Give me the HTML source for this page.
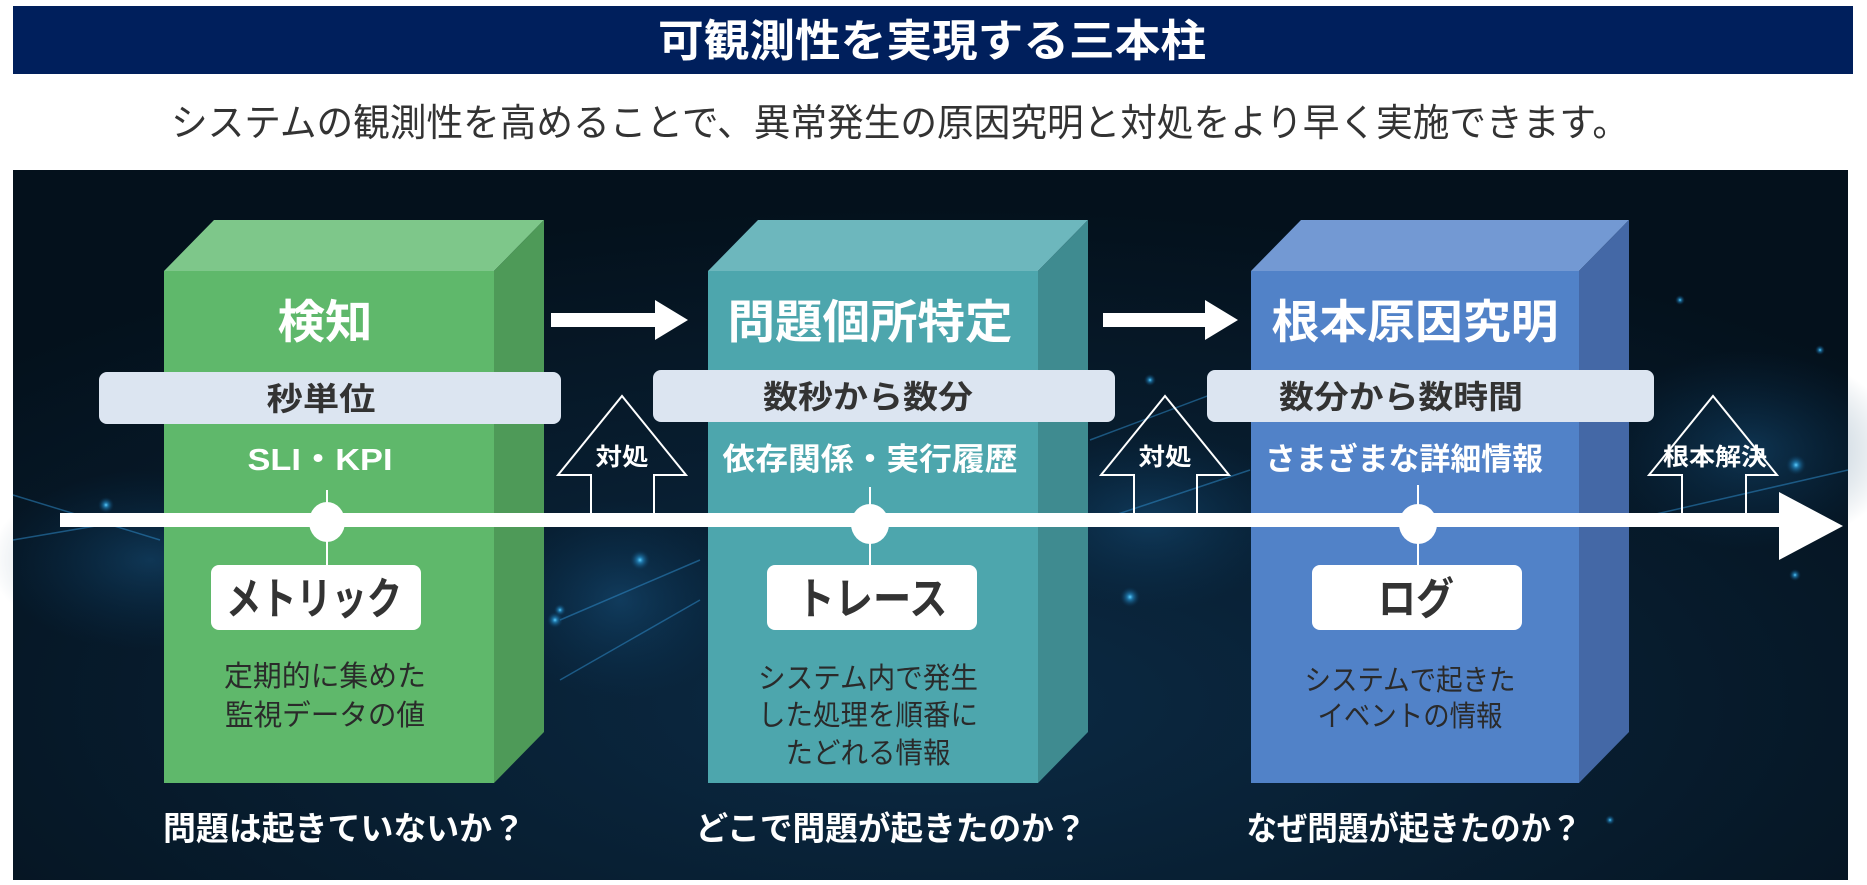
<!DOCTYPE html>
<html><head><meta charset="utf-8"><style>
html,body{margin:0;padding:0;background:#fff;width:1867px;height:885px;overflow:hidden}
svg{display:block}
text{font-family:"Liberation Sans","Noto Sans CJK JP",sans-serif}
</style></head><body>
<svg width="1867" height="885" viewBox="0 0 1867 885" xmlns="http://www.w3.org/2000/svg">
<defs>
<radialGradient id="bg" cx="0.5" cy="0.75" r="0.7">
<stop offset="0" stop-color="#0b2a44"/><stop offset="0.6" stop-color="#071b2c"/><stop offset="1" stop-color="#04111c"/>
</radialGradient>
<radialGradient id="glow"><stop offset="0" stop-color="#5fd0ff" stop-opacity="1"/><stop offset="0.3" stop-color="#2a9fe0" stop-opacity="0.6"/><stop offset="1" stop-color="#0a3a60" stop-opacity="0"/></radialGradient>
<radialGradient id="haze"><stop offset="0" stop-color="#1a5a8a" stop-opacity="0.45"/><stop offset="1" stop-color="#0a3a60" stop-opacity="0"/></radialGradient>
</defs>
<rect x="13" y="6" width="1840" height="68" fill="#001f5c"/>
<text x="932" y="56" font-size="44" font-weight="bold" fill="#fff" text-anchor="middle" textLength="548" lengthAdjust="spacingAndGlyphs">可観測性を実現する三本柱</text>
<text x="900" y="136" font-size="38" fill="#333" text-anchor="middle" textLength="1458" lengthAdjust="spacingAndGlyphs">システムの観測性を高めることで、異常発生の原因究明と対処をより早く実施できます。</text>
<rect x="13" y="170" width="1835" height="710" fill="url(#bg)"/>
<ellipse cx="150" cy="560" rx="160" ry="90" fill="url(#haze)"/>
<ellipse cx="620" cy="600" rx="120" ry="100" fill="url(#haze)"/>
<ellipse cx="1150" cy="520" rx="150" ry="90" fill="url(#haze)"/>
<ellipse cx="1750" cy="450" rx="150" ry="100" fill="url(#haze)"/>
<g stroke="#2f8fcf" stroke-opacity="0.5" stroke-width="1.5">
<line x1="13" y1="495" x2="160" y2="540"/><line x1="13" y1="540" x2="160" y2="515"/>
<line x1="560" y1="620" x2="700" y2="560"/><line x1="560" y1="680" x2="700" y2="600"/>
<line x1="1090" y1="440" x2="1250" y2="380"/><line x1="1100" y1="520" x2="1250" y2="470"/>
<line x1="1630" y1="520" x2="1848" y2="470"/>
</g>
<g fill="url(#glow)">
<circle cx="106" cy="400" r="8"/><circle cx="106" cy="505" r="8"/><circle cx="640" cy="560" r="10"/><circle cx="555" cy="620" r="8"/>
<circle cx="1040" cy="345" r="7"/><circle cx="1040" cy="440" r="7"/><circle cx="1130" cy="597" r="10"/><circle cx="1796" cy="465" r="10"/>
<circle cx="1795" cy="575" r="6"/><circle cx="1150" cy="380" r="6"/><circle cx="1680" cy="300" r="5"/><circle cx="1820" cy="350" r="5"/>
<circle cx="560" cy="610" r="6"/><circle cx="1610" cy="820" r="5"/></g>
<polygon points="164,271 214,220 544,220 494,271" fill="#7ec78a"/>
<polygon points="494,271 544,220 544,732 494,783" fill="#4e9a58"/>
<rect x="164" y="271" width="330" height="512" fill="#5fb86b"/>
<polygon points="708,271 758,220 1088,220 1038,271" fill="#6db7bd"/>
<polygon points="1038,271 1088,220 1088,732 1038,783" fill="#3f8b90"/>
<rect x="708" y="271" width="330" height="512" fill="#4da6ad"/>
<polygon points="1251,271 1301,220 1629,220 1579,271" fill="#7399d3"/>
<polygon points="1579,271 1629,220 1629,732 1579,783" fill="#4468a6"/>
<rect x="1251" y="271" width="328" height="512" fill="#5182c8"/>
<g fill="#fff" font-weight="bold" text-anchor="middle" font-size="46" lengthAdjust="spacingAndGlyphs">
<text x="325" y="338" textLength="95" lengthAdjust="spacingAndGlyphs">検知</text>
<text x="870" y="338" textLength="285" lengthAdjust="spacingAndGlyphs">問題個所特定</text>
<text x="1415" y="338" textLength="287" lengthAdjust="spacingAndGlyphs">根本原因究明</text>
</g>
<polygon points="551,313 655,313 655,300 688,320 655,340 655,327 551,327" fill="#fff"/>
<polygon points="1103,313 1205,313 1205,300 1238,320 1205,340 1205,327 1103,327" fill="#fff"/>
<g fill="#dce5f1"><rect x="99" y="372" width="462" height="52" rx="8"/><rect x="653" y="370" width="462" height="52" rx="8"/><rect x="1207" y="370" width="447" height="52" rx="8"/></g>
<g fill="#333" font-weight="bold" text-anchor="middle" font-size="32">
<text x="321" y="410" textLength="109" lengthAdjust="spacingAndGlyphs">秒単位</text>
<text x="868" y="408" textLength="210" lengthAdjust="spacingAndGlyphs">数秒から数分</text>
<text x="1401" y="408" textLength="244" lengthAdjust="spacingAndGlyphs">数分から数時間</text>
</g>
<g fill="none" stroke="#fff" stroke-width="2">
<polygon points="591,514 591,475 558,475 622,396 686,475 654,475 654,514"/>
<polygon points="1134,514 1134,475 1101,475 1165,396 1229,475 1197,475 1197,514"/>
<polygon points="1682,514 1682,475 1649,475 1713,396 1777,475 1746,475 1746,514"/>
</g>
<g fill="#fff" font-weight="bold" text-anchor="middle" font-size="24">
<text x="622" y="465" textLength="53" lengthAdjust="spacingAndGlyphs">対処</text>
<text x="1165" y="465" textLength="53" lengthAdjust="spacingAndGlyphs">対処</text>
<text x="1715" y="465" textLength="104" lengthAdjust="spacingAndGlyphs">根本解決</text>
</g>
<g fill="#fff" font-weight="bold" text-anchor="middle" font-size="31">
<text x="320" y="470" textLength="145" lengthAdjust="spacingAndGlyphs">SLI・KPI</text>
<text x="870" y="470" textLength="295" lengthAdjust="spacingAndGlyphs">依存関係・実行履歴</text>
<text x="1404" y="470" textLength="278" lengthAdjust="spacingAndGlyphs">さまざまな詳細情報</text>
</g>
<rect x="60" y="513" width="1722" height="14" fill="#fff"/>
<polygon points="1779,492 1843,526 1779,560" fill="#fff"/>
<g stroke="#fff" stroke-width="2"><line x1="327" y1="490" x2="327" y2="570"/><line x1="870" y1="487" x2="870" y2="570"/><line x1="1418" y1="485" x2="1418" y2="570"/></g>
<g fill="#fff"><ellipse cx="327" cy="522" rx="18" ry="20"/><ellipse cx="870" cy="524" rx="19" ry="20"/><ellipse cx="1418" cy="524" rx="19" ry="20"/></g>
<g fill="#fff"><rect x="211" y="565" width="210" height="65" rx="8"/><rect x="767" y="565" width="210" height="65" rx="8"/><rect x="1312" y="565" width="210" height="65" rx="8"/></g>
<g fill="#333" font-weight="bold" text-anchor="middle" font-size="44">
<text x="314" y="614" textLength="176" lengthAdjust="spacingAndGlyphs">メトリック</text>
<text x="872" y="614" textLength="151" lengthAdjust="spacingAndGlyphs">トレース</text>
<text x="1416" y="614" textLength="76" lengthAdjust="spacingAndGlyphs">ログ</text>
</g>
<g fill="#2a2a2a" text-anchor="middle" font-size="29">
<text x="325" y="686" textLength="202" lengthAdjust="spacingAndGlyphs">定期的に集めた</text>
<text x="325" y="725" textLength="200" lengthAdjust="spacingAndGlyphs">監視データの値</text>
<text x="868" y="688" textLength="220" lengthAdjust="spacingAndGlyphs">システム内で発生</text>
<text x="868" y="725" textLength="220" lengthAdjust="spacingAndGlyphs">した処理を順番に</text>
<text x="868" y="763" textLength="165" lengthAdjust="spacingAndGlyphs">たどれる情報</text>
<text x="1410" y="690" textLength="211" lengthAdjust="spacingAndGlyphs">システムで起きた</text>
<text x="1410" y="726" textLength="185" lengthAdjust="spacingAndGlyphs">イベントの情報</text>
</g>
<g fill="#fff" font-weight="bold" text-anchor="middle" font-size="33">
<text x="344" y="840" textLength="362" lengthAdjust="spacingAndGlyphs">問題は起きていないか？</text>
<text x="891" y="840" textLength="391" lengthAdjust="spacingAndGlyphs">どこで問題が起きたのか？</text>
<text x="1414" y="840" textLength="335" lengthAdjust="spacingAndGlyphs">なぜ問題が起きたのか？</text>
</g>
</svg>
</body></html>
